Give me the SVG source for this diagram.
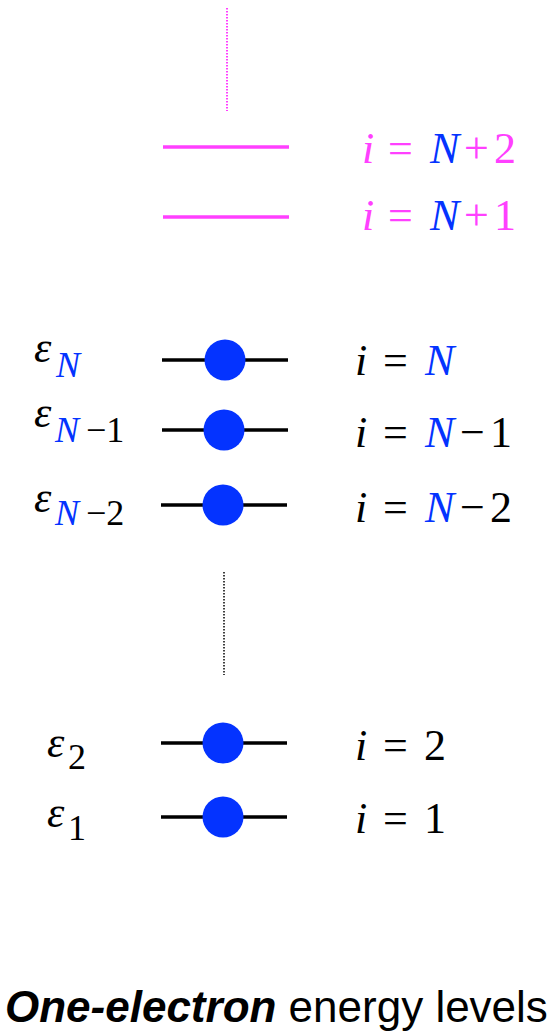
<svg xmlns="http://www.w3.org/2000/svg" width="553" height="1034" viewBox="0 0 553 1034">
<style>
.it{font-style:italic}
.sub{font-size:36px}
.blue{fill:#0433FF}
.mag{fill:#FF40FF}
.blk{fill:#000}
.lvl{stroke:#000;stroke-width:3.5}
.lvlm{stroke:#FF40FF;stroke-width:3.5}
.e{fill:#0433FF}
.title{font-family:'Liberation Sans',Arial,sans-serif;font-size:44px;fill:#000}
</style>
<g id="connectors">
<line x1="227" y1="8" x2="227" y2="111" stroke="#FF40FF" stroke-width="2" stroke-dasharray="1.5,1.5"/>
<line x1="224" y1="572" x2="224" y2="675" stroke="#000" stroke-width="1.5" stroke-dasharray="1.5,1.5"/>
</g>
<g font-family="Liberation Serif, Times New Roman, Times, Noto Serif, DejaVu Serif, serif" font-size="44">
<g id="level-N2">
<line class="lvlm" x1="163" y1="147" x2="289" y2="147"/>
<text class="mag" y="163"><tspan class="it" x="362">i</tspan><tspan x="388">=</tspan><tspan class="it blue" x="430">N</tspan><tspan x="464">+</tspan><tspan x="494">2</tspan></text>
</g>
<g id="level-N1">
<line class="lvlm" x1="163" y1="217" x2="289" y2="217"/>
<text class="mag" y="230"><tspan class="it" x="362">i</tspan><tspan x="388">=</tspan><tspan class="it blue" x="430">N</tspan><tspan x="464">+</tspan><tspan x="494">1</tspan></text>
</g>
<g id="level-N">
<line class="lvl" x1="162" y1="360" x2="288" y2="360"/>
<circle class="e" cx="225" cy="360" r="20.5"/>
<text class="blk" y="362"><tspan class="it" x="34">ε</tspan><tspan class="it sub blue" x="56" y="377">N</tspan></text>
<text class="blk" y="375"><tspan class="it" x="355">i</tspan><tspan x="383">=</tspan><tspan class="it blue" x="425">N</tspan></text>
</g>
<g id="level-Nm1">
<line class="lvl" x1="162" y1="430" x2="288" y2="430"/>
<circle class="e" cx="224" cy="430" r="20.5"/>
<text class="blk" y="427"><tspan class="it" x="34">ε</tspan><tspan class="it sub blue" x="55" y="442">N</tspan><tspan class="sub" x="86">−1</tspan></text>
<text class="blk" y="447"><tspan class="it" x="355">i</tspan><tspan x="383">=</tspan><tspan class="it blue" x="425">N</tspan><tspan x="460">−</tspan><tspan x="490">1</tspan></text>
</g>
<g id="level-Nm2">
<line class="lvl" x1="161" y1="505" x2="287" y2="505"/>
<circle class="e" cx="223" cy="505" r="20.5"/>
<text class="blk" y="512"><tspan class="it" x="34">ε</tspan><tspan class="it sub blue" x="55" y="525">N</tspan><tspan class="sub" x="86">−2</tspan></text>
<text class="blk" y="522"><tspan class="it" x="355">i</tspan><tspan x="383">=</tspan><tspan class="it blue" x="425">N</tspan><tspan x="460">−</tspan><tspan x="490">2</tspan></text>
</g>
<g id="level-2">
<line class="lvl" x1="161" y1="743" x2="287" y2="743"/>
<circle class="e" cx="223" cy="743" r="20.5"/>
<text class="blk" y="757"><tspan class="it" x="47">ε</tspan><tspan class="sub" x="68" y="769">2</tspan></text>
<text class="blk" y="760"><tspan class="it" x="355">i</tspan><tspan x="383">=</tspan><tspan x="424">2</tspan></text>
</g>
<g id="level-1">
<line class="lvl" x1="161" y1="817" x2="287" y2="817"/>
<circle class="e" cx="223" cy="817" r="20.5"/>
<text class="blk" y="827"><tspan class="it" x="47">ε</tspan><tspan class="sub" x="68" y="840">1</tspan></text>
<text class="blk" y="833"><tspan class="it" x="355">i</tspan><tspan x="383">=</tspan><tspan x="424">1</tspan></text>
</g>
</g>
<g id="title">
<text class="title" x="5" y="1022"><tspan font-weight="bold" font-style="italic">One-electron</tspan> energy levels</text>
</g>
</svg>
